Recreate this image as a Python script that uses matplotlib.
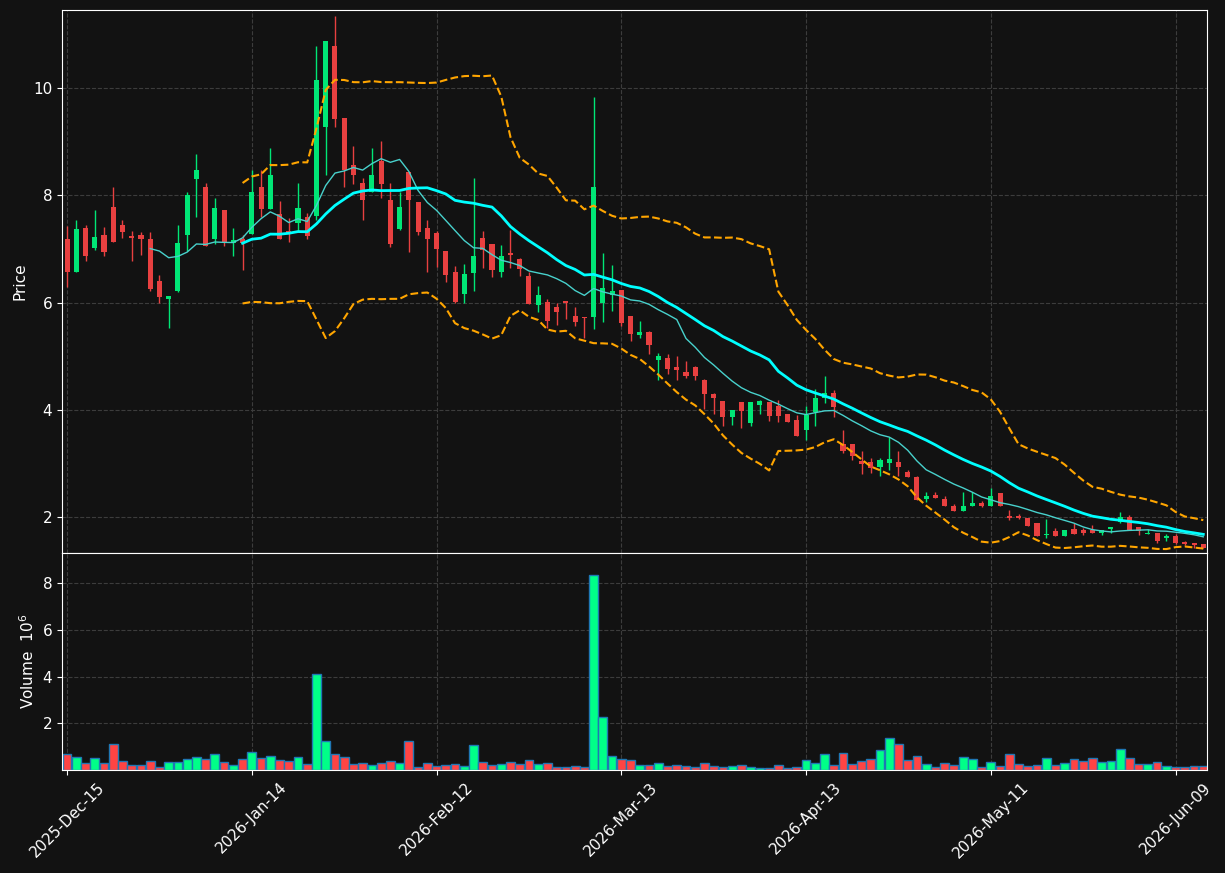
import numpy as np
import pandas as pd
import matplotlib
matplotlib.use("Agg")
import matplotlib.pyplot as plt

# daily OHLC (index 0 = 2025-12-15)
opens = [7.18, 6.57, 7.39, 7.02, 7.27, 7.78, 7.44, 7.23, 7.26, 7.18,
         6.40, 6.07, 6.21, 7.27, 8.31, 8.15, 7.19, 7.73, 7.12, 7.19,
         7.29, 8.15, 7.75, 7.65, 7.33, 7.49, 7.60, 7.62, 9.27, 10.79,
         9.44, 8.56, 8.23, 8.07, 8.64, 7.92, 7.38, 8.43, 7.88, 7.39,
         7.30, 6.96, 6.57, 6.16, 6.55, 7.20, 7.09, 6.57, 6.92, 6.81,
         6.49, 5.96, 6.01, 5.91, 6.01, 5.76, 5.74, 5.73, 6.00, 6.14,
         6.23, 5.76, 5.39, 5.45, 4.93, 4.96, 4.80, 4.70, 4.80, 4.56,
         4.30, 4.16, 3.87, 4.14, 3.76, 4.09, 4.14, 4.08, 3.92, 3.81,
         3.63, 3.96, 4.22, 4.32, 3.36, 3.36, 3.05, 3.02, 2.93, 3.01,
         3.02, 2.84, 2.74, 2.34, 2.41, 2.33, 2.20, 2.12, 2.20, 2.27,
         2.21, 2.44, 2.00, 2.01, 1.98, 1.88, 1.66, 1.74, 1.65, 1.78,
         1.75, 1.75, 1.70, 1.78, 1.90, 2.00, 1.81, 1.68, 1.70, 1.60,
         1.64, 1.53, 1.50, 1.50]
highs = [7.43, 7.55, 7.44, 7.73, 7.42, 8.15, 7.55, 7.33, 7.31, 7.31,
         6.51, 6.13, 7.44, 8.07, 8.78, 8.23, 7.96, 7.73, 7.39, 7.27,
         8.47, 8.47, 8.88, 7.89, 7.58, 8.23, 7.68, 10.79, 10.88, 11.34,
         9.44, 8.92, 8.32, 8.88, 9.02, 8.23, 8.07, 8.43, 7.88, 7.55,
         7.33, 6.96, 6.68, 6.73, 8.32, 7.33, 7.09, 7.07, 7.35, 6.84,
         6.57, 6.31, 6.06, 6.00, 6.01, 5.92, 5.74, 9.84, 6.92, 6.71,
         6.23, 5.76, 5.66, 5.47, 5.07, 5.05, 5.01, 4.91, 4.81, 4.57,
         4.32, 4.16, 3.99, 4.14, 4.14, 4.19, 4.14, 4.18, 3.92, 3.90,
         4.07, 4.39, 4.64, 4.37, 3.63, 3.36, 3.24, 3.11, 3.10, 3.49,
         3.23, 2.87, 2.76, 2.46, 2.46, 2.39, 2.24, 2.46, 2.47, 2.30,
         2.54, 2.45, 2.14, 2.06, 1.98, 1.88, 1.96, 1.79, 1.76, 1.89,
         1.79, 1.86, 1.75, 1.81, 2.09, 2.04, 1.81, 1.78, 1.70, 1.68,
         1.68, 1.56, 1.51, 1.50]
lows = [6.30, 6.57, 6.78, 6.99, 6.87, 7.14, 7.20, 6.78, 6.89, 6.22,
        6.00, 5.52, 6.19, 6.97, 7.59, 7.06, 7.10, 7.06, 6.87, 6.61,
        7.29, 7.60, 7.75, 7.19, 7.14, 7.33, 7.19, 7.54, 8.39, 9.27,
        8.15, 8.22, 7.55, 8.07, 7.95, 7.03, 7.35, 6.95, 7.27, 6.58,
        6.67, 6.39, 6.00, 6.00, 6.22, 6.64, 6.47, 6.47, 6.65, 6.50,
        5.98, 5.83, 5.53, 5.59, 5.69, 5.57, 5.35, 5.51, 5.64, 5.85,
        5.57, 5.29, 5.35, 5.05, 4.55, 4.66, 4.56, 4.60, 4.55, 4.02,
        3.92, 3.70, 3.72, 3.67, 3.70, 3.93, 3.80, 3.78, 3.78, 3.52,
        3.43, 3.70, 4.13, 3.87, 3.20, 3.07, 2.81, 2.83, 2.77, 2.87,
        2.77, 2.74, 2.32, 2.28, 2.36, 2.21, 2.12, 2.12, 2.20, 2.19,
        2.21, 2.21, 1.95, 1.97, 1.83, 1.65, 1.60, 1.65, 1.64, 1.69,
        1.66, 1.70, 1.66, 1.70, 1.88, 1.76, 1.66, 1.68, 1.51, 1.56,
        1.49, 1.48, 1.43, 1.43]
closes = [6.57, 7.37, 6.87, 7.22, 6.95, 7.14, 7.32, 7.21, 7.19, 6.25,
          6.11, 6.13, 7.12, 8.01, 8.47, 7.06, 7.77, 7.14, 7.16, 7.12,
          8.07, 7.75, 8.39, 7.19, 7.30, 7.77, 7.25, 10.15, 10.88, 9.43,
          8.47, 8.39, 7.91, 8.39, 8.22, 7.10, 7.78, 7.92, 7.32, 7.19,
          7.00, 6.51, 6.02, 6.53, 6.88, 6.98, 6.61, 6.88, 6.89, 6.63,
          5.98, 6.14, 5.66, 5.83, 6.00, 5.64, 5.71, 8.16, 6.27, 6.21,
          5.62, 5.42, 5.45, 5.21, 5.00, 4.76, 4.75, 4.63, 4.63, 4.30,
          4.22, 3.87, 3.99, 3.98, 4.14, 4.16, 3.89, 3.89, 3.78, 3.52,
          3.90, 4.23, 4.32, 4.05, 3.23, 3.14, 2.99, 2.92, 3.06, 3.08,
          2.93, 2.75, 2.32, 2.40, 2.36, 2.21, 2.12, 2.20, 2.26, 2.20,
          2.40, 2.21, 1.99, 1.99, 1.83, 1.65, 1.69, 1.65, 1.76, 1.69,
          1.70, 1.70, 1.75, 1.81, 2.00, 1.76, 1.74, 1.71, 1.55, 1.64,
          1.51, 1.49, 1.48, 1.43]
# volume in millions
volumes = [0.67, 0.54, 0.28, 0.50, 0.28, 1.13, 0.37, 0.20, 0.20, 0.37,
           0.14, 0.33, 0.33, 0.45, 0.54, 0.45, 0.67, 0.33, 0.20, 0.45,
           0.75, 0.50, 0.58, 0.41, 0.37, 0.54, 0.24, 4.11, 1.26, 0.67,
           0.54, 0.24, 0.28, 0.20, 0.28, 0.37, 0.28, 1.26, 0.11, 0.28,
           0.16, 0.20, 0.24, 0.16, 1.05, 0.33, 0.20, 0.24, 0.33, 0.24,
           0.41, 0.24, 0.28, 0.11, 0.11, 0.16, 0.11, 8.37, 2.28, 0.58,
           0.45, 0.41, 0.20, 0.20, 0.28, 0.16, 0.20, 0.16, 0.11, 0.28,
           0.16, 0.11, 0.16, 0.20, 0.11, 0.07, 0.07, 0.20, 0.07, 0.11,
           0.41, 0.28, 0.67, 0.20, 0.71, 0.24, 0.37, 0.45, 0.84, 1.39,
           1.13, 0.41, 0.58, 0.24, 0.11, 0.28, 0.20, 0.54, 0.45, 0.11,
           0.33, 0.16, 0.67, 0.24, 0.16, 0.20, 0.50, 0.20, 0.28, 0.45,
           0.37, 0.50, 0.33, 0.37, 0.92, 0.50, 0.24, 0.24, 0.33, 0.16,
           0.11, 0.11, 0.16, 0.16]

holidays = ["2025-12-25", "2026-01-01", "2026-01-19", "2026-02-16",
            "2026-04-03", "2026-05-25"]
dates = pd.date_range("2025-12-15", periods=len(closes),
                      freq=pd.offsets.CustomBusinessDay(holidays=holidays))

df = pd.DataFrame({"open": opens, "high": highs, "low": lows,
                   "close": closes, "volume": volumes}, index=dates)
df["ma10"] = df["close"].rolling(10).mean()
df["ma20"] = df["close"].rolling(20).mean()
std20 = df["close"].rolling(20).std(ddof=0)
df["bb_up"] = df["ma20"] + 2 * std20
df["bb_dn"] = df["ma20"] - 2 * std20

bg = "#121212"
up_c, dn_c = "#00e676", "#e84040"
vup_c, vdn_c = "#00ff88", "#ff4444"

fig = plt.figure(figsize=(12.25, 8.73), dpi=100, facecolor=bg)
ax = fig.add_axes([0.0506, 0.3666, 0.9347, 0.6219])
axv = fig.add_axes([0.0506, 0.118, 0.9347, 0.2486], sharex=ax)

x = np.arange(len(df))
is_up = df["close"].values >= df["open"].values

# candles
ax.vlines(x, df["low"], df["high"], colors=np.where(is_up, up_c, dn_c),
          linewidth=1, zorder=2)
body_lo = np.minimum(df["open"], df["close"])
body_h = np.maximum(np.abs(df["close"] - df["open"]), 0.03)
ax.bar(x, body_h, bottom=body_lo, width=0.55,
       color=np.where(is_up, up_c, dn_c), linewidth=0, zorder=3)

ax.plot(x, df["ma10"], color="#48d1cc", lw=1, zorder=4)
ax.plot(x, df["ma20"], color="#00ffff", lw=2, zorder=4)
ax.plot(x, df["bb_up"], color="#ffa500", lw=1.5, ls="--", zorder=4)
ax.plot(x, df["bb_dn"], color="#ffa500", lw=1.5, ls="--", zorder=4)

# volume
axv.bar(x, df["volume"], width=0.95, color=np.where(is_up, vup_c, vdn_c),
        edgecolor="#1f77b4", linewidth=1)

for a in (ax, axv):
    a.set_facecolor(bg)
    a.grid(True, color="#3c3c3c", ls="--", lw=0.8)
    a.set_axisbelow(True)
    for s in a.spines.values():
        s.set_color("white")
    a.tick_params(colors="white", labelsize=11)

ax.set_xlim(-0.55, 123.4)
ax.set_ylim(1.33, 11.46)
ax.set_yticks([2, 4, 6, 8, 10])
ax.set_ylabel("Price", color="white", fontsize=11)
ax.tick_params(axis="x", labelbottom=False, length=0)

axv.set_ylim(0, 9.3)
axv.set_yticks([2, 4, 6, 8])
axv.set_ylabel("Volume  $10^{6}$", color="white", fontsize=11)
ticks = x[::20]
axv.set_xticks(ticks)
axv.set_xticklabels([d.strftime("%Y-%b-%d") for d in df.index[ticks]],
                    rotation=45, ha="center")

fig.savefig("out.png", dpi=100, facecolor=bg)
